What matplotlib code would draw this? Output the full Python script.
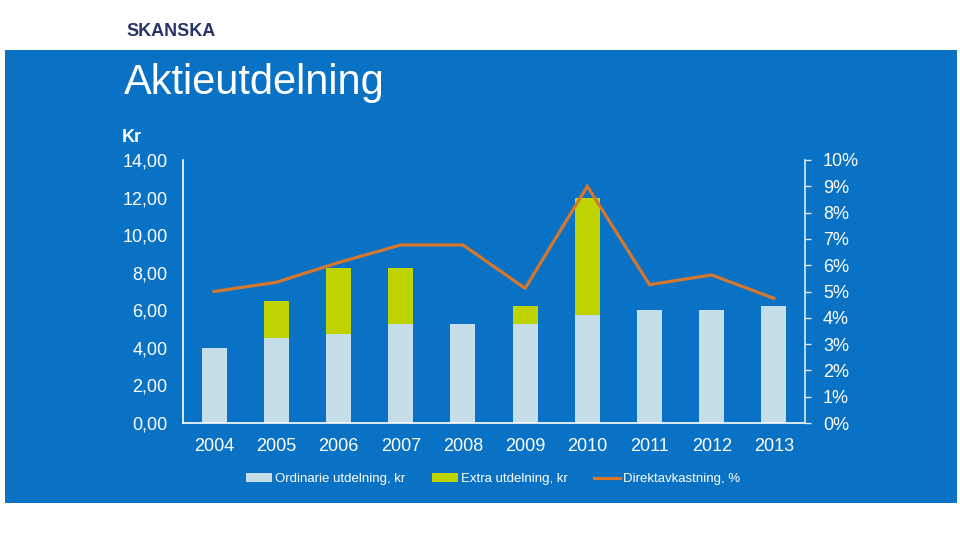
import matplotlib
matplotlib.use("Agg")
import matplotlib.pyplot as plt
from matplotlib.patches import Rectangle
from matplotlib.ticker import FuncFormatter
import numpy as np

plt.rcParams['font.family'] = ['Liberation Sans', 'DejaVu Sans']

years = ['2004', '2005', '2006', '2007', '2008', '2009', '2010', '2011', '2012', '2013']
ordinarie = [4.00, 4.50, 4.75, 5.25, 5.25, 5.25, 5.75, 6.00, 6.00, 6.25]
extra = [0.00, 2.00, 3.50, 3.00, 0.00, 1.00, 6.25, 0.00, 0.00, 0.00]
direktavkastning = [5.0, 5.35, 6.1, 6.77, 6.77, 5.12, 9.0, 5.26, 5.63, 4.74]  # percent

left_ticks = [0, 2, 4, 6, 8, 10, 12, 14]
right_ticks = [0, 1, 2, 3, 4, 5, 6, 7, 8, 9, 10]

BLUE = '#0A72C5'
LIGHT = '#C6DEEA'
GREEN = '#BFD300'
ORANGE = '#D5782E'
NAVY = '#2B3467'
AXCOL = '#DCEAF6'

W, H = 960, 539
fig = plt.figure(figsize=(W / 100, H / 100), dpi=100)
fig.patch.set_facecolor('white')

# blue panel
panel = Rectangle((5 / W, (H - 503) / H), 952 / W, 453 / H,
                  transform=fig.transFigure, facecolor=BLUE,
                  edgecolor='none', zorder=-10)
fig.add_artist(panel)

fig.text(126 / W, 1 - 31 / H, 'SKANSKA', color=NAVY, fontsize=13,
         fontweight='bold', va='center', ha='left')
fig.text(124 / W, 1 - 83 / H, 'Aktieutdelning', color='white', fontsize=30,
         va='center', ha='left')
fig.text(122 / W, 1 - 137 / H, 'Kr', color='white', fontsize=13,
         fontweight='bold', va='center', ha='left')

ax = fig.add_axes([183 / W, (H - 423) / H, (805 - 183) / W, (423 - 160) / H])
ax.set_facecolor('none')
x = np.arange(len(years))
bw = 0.4
ax.bar(x, ordinarie, width=bw, color=LIGHT, label='Ordinarie utdelning, kr', zorder=2)
ax.bar(x, extra, width=bw, bottom=ordinarie, color=GREEN, label='Extra utdelning, kr', zorder=2)
ax.set_xlim(-0.5, len(years) - 0.5)
ax.set_ylim(0, 14)
ax.set_yticks(left_ticks)
ax.set_yticklabels([f'{v:.2f}'.replace('.', ',') for v in left_ticks])
ax.set_xticks(x)
ax.set_xticklabels(years)
ax.tick_params(axis='y', length=0, pad=11, labelsize=13, labelcolor='white')
ax.tick_params(axis='x', length=0, pad=11, labelsize=13, labelcolor='white')
for s in ['top', 'right']:
    ax.spines[s].set_visible(False)
ax.spines['left'].set_color('white')
ax.spines['bottom'].set_color('white')
ax.spines['left'].set_linewidth(1.2)
ax.spines['bottom'].set_linewidth(1.2)

ax2 = ax.twinx()
ax2.set_facecolor('none')
ax2.plot(x, direktavkastning, color=ORANGE, linewidth=2.3,
         label='Direktavkastning, %', zorder=3, solid_joinstyle='miter')
ax2.set_ylim(0, 10)
ax2.set_yticks(right_ticks)
ax2.yaxis.set_major_formatter(FuncFormatter(lambda v, p: f'{v:.0f}%'))
ax2.tick_params(axis='y', direction='out', length=4, width=1, color=AXCOL,
                pad=9, labelsize=13, labelcolor='white')
for s in ['top', 'left', 'bottom']:
    ax2.spines[s].set_visible(False)
ax2.spines['right'].set_color(AXCOL)
ax2.spines['right'].set_linewidth(1.2)

h1, l1 = ax.get_legend_handles_labels()
h2, l2 = ax2.get_legend_handles_labels()
leg = fig.legend(h1 + h2, l1 + l2, loc='center', bbox_to_anchor=(493 / W, (H - 479) / H),
                 ncol=3, frameon=False, fontsize=9.5, handlelength=2.0,
                 handleheight=0.6, handletextpad=0.2, columnspacing=2.0,
                 labelcolor='white')

fig.savefig('out.png', dpi=100, facecolor=fig.get_facecolor())
